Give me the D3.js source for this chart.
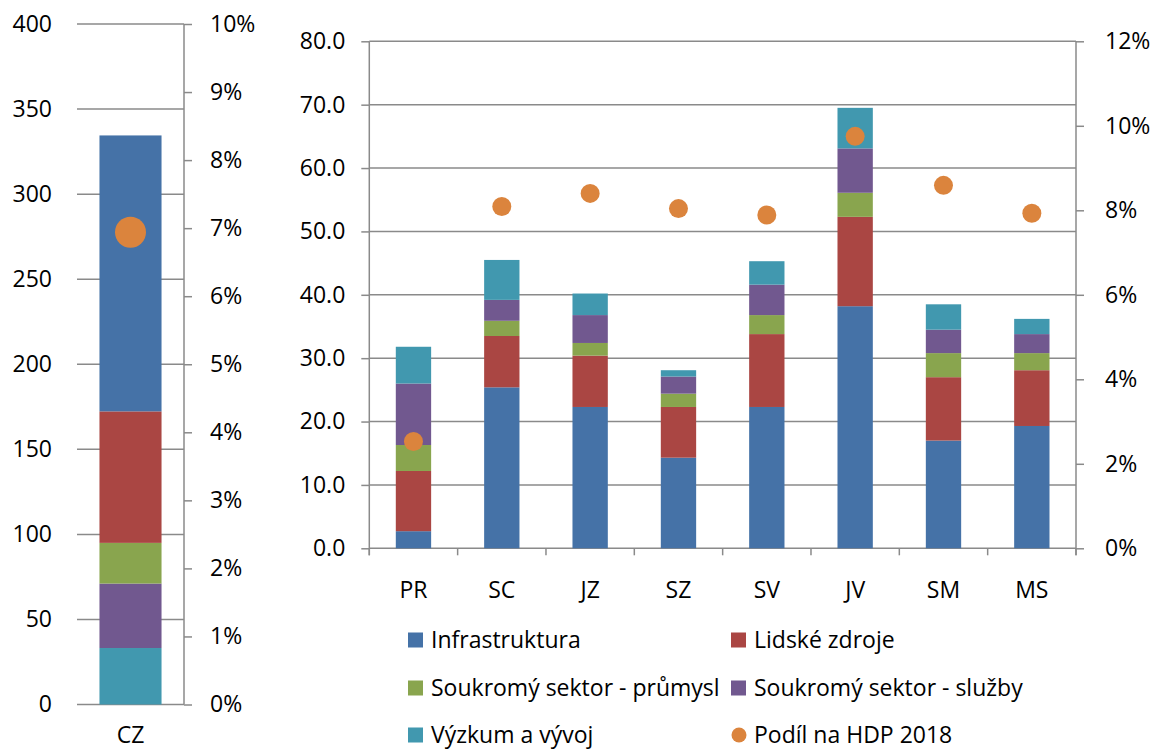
<!DOCTYPE html>
<html>
<head>
<meta charset="utf-8">
<script src="https://cdn.jsdelivr.net/npm/d3@7"></script>
<style>
  html, body { margin: 0; padding: 0; background: #fff; }
  svg { display: block; font-family: "Open Sans", sans-serif; }
  text { fill: #000; }
</style>
</head>
<body>
<svg id="chart" width="1153" height="750"></svg>
<script>
// ---- Data ----
const regions = ["PR", "SC", "JZ", "SZ", "SV", "JV", "SM", "MS"];
const infrastruktura = [2.7, 25.4, 22.3, 14.3, 22.3, 38.2, 17.0, 19.3];
const lidskeZdroje   = [9.5, 8.1, 8.1, 8.0, 11.5, 14.1, 10.0, 8.8];
const prumysl        = [4.1, 2.4, 2.0, 2.1, 3.0, 3.8, 3.8, 2.7];
const sluzby         = [9.7, 3.3, 4.4, 2.7, 4.8, 7.0, 3.7, 3.0];
const vyzkum         = [5.8, 6.3, 3.4, 1.0, 3.7, 6.4, 4.0, 2.4];
const podilHDP       = [0.0253, 0.0809, 0.0840, 0.0804, 0.0789, 0.0975, 0.0859, 0.0793];

const czCategory = ["CZ"];
const czInfrastruktura = [162.2];
const czLidskeZdroje = [77.3];
const czPrumysl = [23.9];
const czSluzby = [37.9];
const czVyzkum = [33.2];
const czPodilHDP = [0.0694];

const seriesNames = ["Infrastruktura", "Lidské zdroje", "Soukromý sektor - průmysl", "Soukromý sektor - služby", "Výzkum a vývoj"];
const pointSeriesName = "Podíl na HDP 2018";
const seriesColors = ["#4572A7", "#AA4643", "#89A54E", "#71588F", "#4198AF"];
const pointColor = "#DB843D";

const leftTicks = [0, 50, 100, 150, 200, 250, 300, 350, 400];
const leftPctTicks = [0, 0.01, 0.02, 0.03, 0.04, 0.05, 0.06, 0.07, 0.08, 0.09, 0.10];
const rightTicks = [0, 10, 20, 30, 40, 50, 60, 70, 80];
const rightPctTicks = [0, 0.02, 0.04, 0.06, 0.08, 0.10, 0.12];

// ---- Setup ----
const svg = d3.select("#chart");
const FS = 23;
const gridColor = "#8a8a8a";

function styleAxis(g) {
  g.selectAll("text").attr("font-size", FS).attr("fill", "#000").attr("font-family", '"Open Sans", sans-serif');
  g.selectAll("line").attr("stroke", gridColor).attr("stroke-width", 1.5);
  g.selectAll(".domain").remove();
}

// ================= LEFT CHART (CZ) =================
const L = { x0: 77, x1: 184, yTop: 24, yBot: 704.5 };
const xL = d3.scaleBand().domain(czCategory).range([L.x0, L.x1]).paddingInner(0.42).paddingOuter(0.21);
const yL = d3.scaleLinear().domain([0, 400]).range([L.yBot, L.yTop]);
const pL = d3.scaleLinear().domain([0, 0.10]).range([L.yBot, L.yTop]);

const gL = svg.append("g");
gL.append("g").selectAll("line").data(leftTicks).join("line")
  .attr("x1", L.x0).attr("x2", L.x1)
  .attr("y1", d => yL(d)).attr("y2", d => yL(d))
  .attr("stroke", gridColor).attr("stroke-width", 1.5);

const czRows = czCategory.map((c, i) => ({
  cat: c,
  "Infrastruktura": czInfrastruktura[i],
  "Lidské zdroje": czLidskeZdroje[i],
  "Soukromý sektor - průmysl": czPrumysl[i],
  "Soukromý sektor - služby": czSluzby[i],
  "Výzkum a vývoj": czVyzkum[i]
}));
const czKeys = seriesNames.slice().reverse();
const czStack = d3.stack().keys(czKeys)(czRows);
gL.append("g").selectAll("g").data(czStack).join("g")
  .attr("fill", d => seriesColors[seriesNames.indexOf(d.key)])
  .selectAll("rect").data(d => d).join("rect")
  .attr("x", d => xL(d.data.cat))
  .attr("width", xL.bandwidth())
  .attr("y", d => yL(d[1]))
  .attr("height", d => yL(d[0]) - yL(d[1]));

const axL = gL.append("g").attr("transform", `translate(${L.x0},0)`)
  .call(d3.axisLeft(yL).tickValues(leftTicks).tickSize(0).tickPadding(25).tickFormat(d3.format("d")));
styleAxis(axL);

gL.append("line").attr("x1", L.x1).attr("x2", L.x1).attr("y1", L.yTop).attr("y2", L.yBot)
  .attr("stroke", gridColor).attr("stroke-width", 1.5);
const axLp = gL.append("g").attr("transform", `translate(${L.x1},0)`)
  .call(d3.axisRight(pL).tickValues(leftPctTicks).tickSize(8).tickPadding(18).tickFormat(d3.format(".0%")));
styleAxis(axLp);

gL.append("text").attr("x", xL("CZ") + xL.bandwidth() / 2).attr("y", 743)
  .attr("text-anchor", "middle").attr("font-size", FS).text(czCategory[0]);

gL.append("g").selectAll("circle").data(czCategory).join("circle")
  .attr("cx", d => xL(d) + xL.bandwidth() / 2)
  .attr("cy", (d, i) => pL(czPodilHDP[i]))
  .attr("r", 15.5).attr("fill", pointColor);

// ================= RIGHT CHART (regions) =================
const R = { x0: 369.3, x1: 1076, yTop: 41.3, yBot: 548.3 };
const xR = d3.scaleBand().domain(regions).range([R.x0, R.x1]).paddingInner(0.6).paddingOuter(0.3);
const yR = d3.scaleLinear().domain([0, 80]).range([R.yBot, R.yTop]);
const pR = d3.scaleLinear().domain([0, 0.12]).range([R.yBot, R.yTop]);

const gR = svg.append("g");
gR.append("g").selectAll("line").data(rightTicks).join("line")
  .attr("x1", R.x0).attr("x2", R.x1)
  .attr("y1", d => yR(d)).attr("y2", d => yR(d))
  .attr("stroke", gridColor).attr("stroke-width", 1.5);

const rows = regions.map((c, i) => ({
  cat: c,
  "Infrastruktura": infrastruktura[i],
  "Lidské zdroje": lidskeZdroje[i],
  "Soukromý sektor - průmysl": prumysl[i],
  "Soukromý sektor - služby": sluzby[i],
  "Výzkum a vývoj": vyzkum[i]
}));
const stack = d3.stack().keys(seriesNames)(rows);
gR.append("g").selectAll("g").data(stack).join("g")
  .attr("fill", d => seriesColors[seriesNames.indexOf(d.key)])
  .selectAll("rect").data(d => d).join("rect")
  .attr("x", d => xR(d.data.cat))
  .attr("width", xR.bandwidth())
  .attr("y", d => yR(d[1]))
  .attr("height", d => yR(d[0]) - yR(d[1]));

gR.append("line").attr("x1", R.x0).attr("x2", R.x0).attr("y1", R.yTop).attr("y2", R.yBot + 7)
  .attr("stroke", gridColor).attr("stroke-width", 1.5);
const axR = gR.append("g").attr("transform", `translate(${R.x0},0)`)
  .call(d3.axisLeft(yR).tickValues(rightTicks).tickSize(8).tickPadding(16).tickFormat(d3.format(".1f")));
styleAxis(axR);

gR.append("line").attr("x1", R.x1).attr("x2", R.x1).attr("y1", R.yTop).attr("y2", R.yBot + 7)
  .attr("stroke", gridColor).attr("stroke-width", 1.5);
const axRp = gR.append("g").attr("transform", `translate(${R.x1},0)`)
  .call(d3.axisRight(pR).tickValues(rightPctTicks).tickSize(8).tickPadding(21).tickFormat(d3.format(".0%")));
styleAxis(axRp);

const axB = gR.append("g").attr("transform", `translate(0,${R.yBot})`)
  .call(d3.axisBottom(xR).tickSize(0).tickPadding(33));
styleAxis(axB);
gR.append("g").selectAll("line").data(d3.range(regions.length + 1)).join("line")
  .attr("x1", i => R.x0 + i * xR.step()).attr("x2", i => R.x0 + i * xR.step())
  .attr("y1", R.yBot).attr("y2", R.yBot + 7)
  .attr("stroke", gridColor).attr("stroke-width", 1.5);

gR.append("g").selectAll("circle").data(regions).join("circle")
  .attr("cx", d => xR(d) + xR.bandwidth() / 2)
  .attr("cy", (d, i) => pR(podilHDP[i]))
  .attr("r", 9.5).attr("fill", pointColor);

// ================= LEGEND =================
const legendItems = seriesNames.map((n, i) => ({ name: n, color: seriesColors[i], type: "rect" }))
  .concat([{ name: pointSeriesName, color: pointColor, type: "circle" }]);
const colX = [408, 731];
const rowY = [640, 688, 735];
const lg = svg.append("g").selectAll("g").data(legendItems).join("g")
  .attr("transform", (d, i) => `translate(${colX[i % 2]},${rowY[Math.floor(i / 2)]})`);
lg.filter(d => d.type === "rect").append("rect")
  .attr("x", 0).attr("y", -7.5).attr("width", 15).attr("height", 15).attr("fill", d => d.color);
lg.filter(d => d.type === "circle").append("circle")
  .attr("cx", 8).attr("cy", 0).attr("r", 7.5).attr("fill", d => d.color);
lg.append("text").attr("x", 23).attr("y", 0).attr("dy", "0.36em")
  .attr("font-size", FS).text(d => d.name);
</script>
</body>
</html>
